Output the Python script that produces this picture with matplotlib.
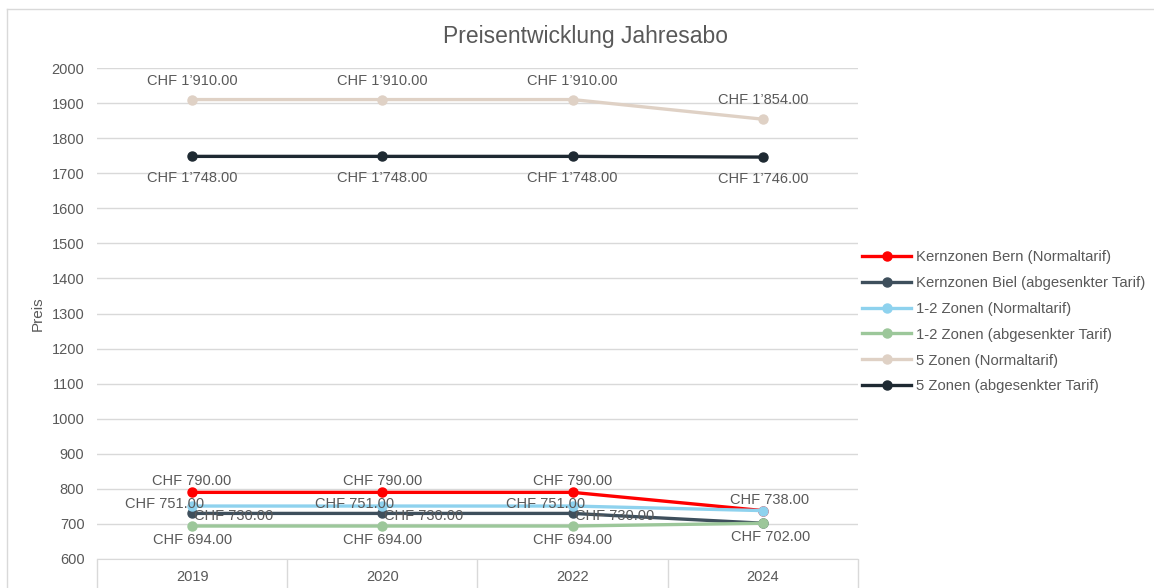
import matplotlib
matplotlib.use("Agg")
import matplotlib.pyplot as plt
from matplotlib.lines import Line2D

plt.rcParams['font.family'] = ['Liberation Sans', 'DejaVu Sans']

categories = ["2019", "2020", "2022", "2024"]
series_names = [
    "Kernzonen Bern (Normaltarif)",
    "Kernzonen Biel (abgesenkter Tarif)",
    "1-2 Zonen (Normaltarif)",
    "1-2 Zonen (abgesenkter Tarif)",
    "5 Zonen (Normaltarif)",
    "5 Zonen (abgesenkter Tarif)",
]
bern_normal = [790, 790, 790, 738]
biel_reduced = [730, 730, 730, 702]
zones12_normal = [751, 751, 751, 738]
zones12_reduced = [694, 694, 694, 702]
zones5_normal = [1910, 1910, 1910, 1854]
zones5_reduced = [1748, 1748, 1748, 1746]
series_values = [bern_normal, biel_reduced, zones12_normal, zones12_reduced,
                 zones5_normal, zones5_reduced]

colors = ["#FF0000", "#3E4F5C", "#8ED2EE", "#9CC79A", "#DFD1C5", "#1E2932"]
# label placement per series: (dx px, dy px, ha, which points labelled)
label_style = [
    (0, 11, "center", [0, 1, 2, 3]),
    (2, -3, "left", [0, 1, 2]),
    (12, 2, "right", [0, 1, 2]),
    (0, -14, "center", [0, 1, 2, 3]),
    (0, 19, "center", [0, 1, 2, 3]),
    (0, -22, "center", [0, 1, 2, 3]),
]
label_dx_2024 = {0: 7, 3: 8, 4: 0, 5: 0}

def fmt(v):
    s = f"{v:,.2f}".replace(",", "\u2019")
    return "CHF " + s

W, H = 1154, 588
fig = plt.figure(figsize=(W / 100, H / 100), dpi=100)
ax = fig.add_axes([97 / W, 1 - 559 / H, (858 - 97) / W, (559 - 68) / H])

x = list(range(len(categories)))
for i, (name, vals, c) in enumerate(zip(series_names, series_values, colors)):
    ax.plot(x, vals, color=c, lw=2.4, marker="o", ms=6.5, label=name,
            solid_capstyle="round", zorder=3 + i, clip_on=False)

pt = 0.72
for i, vals in enumerate(series_values):
    dx, dy, ha, idxs = label_style[i]
    for j in idxs:
        ddx = dx
        if j == 3 and i in label_dx_2024:
            ddx = label_dx_2024[i]
        ax.annotate(fmt(vals[j]), (x[j], vals[j]), xytext=(ddx * pt, dy * pt),
                    textcoords="offset points", ha=ha, va="center",
                    fontsize=10.5, color="#595959", zorder=20,
                    annotation_clip=False)

ax.set_xlim(-0.5, len(categories) - 0.5)
ax.set_ylim(600, 2000)
ax.set_yticks(range(600, 2001, 100))
ax.yaxis.grid(True, color="#D9D9D9", lw=1)
ax.set_axisbelow(True)
for s in ["top", "right", "left"]:
    ax.spines[s].set_visible(False)
ax.spines["bottom"].set_color("#D9D9D9")
ax.tick_params(axis="y", length=0, labelsize=10.5, labelcolor="#595959", pad=9)

ax.set_xticks([k - 0.5 for k in range(len(categories) + 1)])
ax.set_xticklabels([])
ax.tick_params(axis="x", which="major", length=30, color="#D9D9D9", width=1)
ax.set_xticks(x, minor=True)
ax.set_xticklabels(categories, minor=True)
ax.tick_params(axis="x", which="minor", length=0, labelsize=10.5,
               labelcolor="#595959", pad=8)

ax.set_ylabel("Preis", fontsize=11, color="#595959")
ax.yaxis.set_label_coords(-(97 - 38) / (858 - 97), 0.5)
ax.yaxis.label.set_va("center")

fig.text(585 / W, 1 - 37 / H, "Preisentwicklung Jahresabo", ha="center",
         va="center", fontsize=16.5, color="#595959")

handles = [Line2D([0], [0], color=c, lw=2.4, marker="o", ms=6.5) for c in colors]
leg = fig.legend(handles, series_names, loc="upper left",
                 bbox_to_anchor=(862 / W, 1 - 250 / H), frameon=False,
                 fontsize=10.7, labelcolor="#595959", handlelength=3.3,
                 handletextpad=0.35, labelspacing=0.8, borderpad=0,
                 borderaxespad=0)

# outer chart frame
fig.add_artist(Line2D([7 / W, 1.0], [1 - 9 / H, 1 - 9 / H], color="#D9D9D9",
                      lw=1, transform=fig.transFigure))
fig.add_artist(Line2D([7 / W, 7 / W], [0, 1 - 9 / H], color="#D9D9D9",
                      lw=1, transform=fig.transFigure))

fig.savefig("out.png", dpi=100)
